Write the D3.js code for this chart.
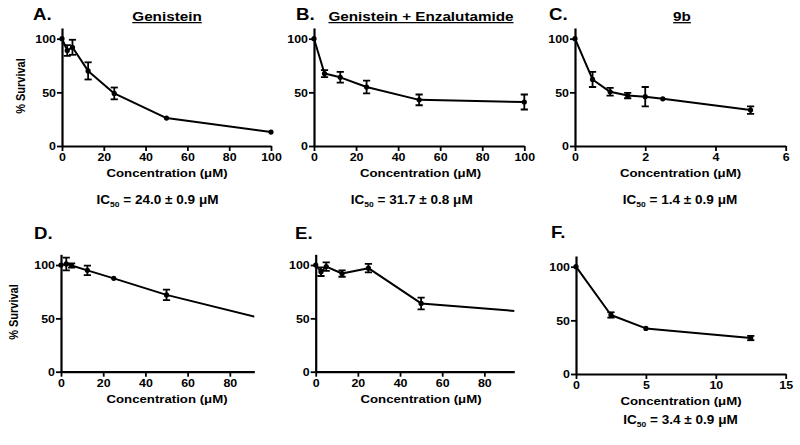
<!DOCTYPE html>
<html><head><meta charset="utf-8">
<script src="https://cdn.jsdelivr.net/npm/d3@7"></script>
<style>
html,body{margin:0;padding:0;background:#fff;}
svg text{font-family:"Liberation Sans",Arial,sans-serif;font-weight:bold;fill:#000;}
</style></head>
<body>
<svg id="chart" width="800" height="445"></svg>
<script>
// ---- data ----
const concA = [0, 2.5, 5, 12.5, 25, 50, 100];
const survA = [100, 89, 92, 70, 49, 26, 13];
const errA  = [0, 5, 7, 8, 5.5, 0, 0];

const concB = [0, 5, 12.5, 25, 50, 100];
const survB = [100, 67.5, 64, 55, 43, 41];
const errB  = [0, 3.3, 5, 6, 5, 7];

const concC = [0, 0.5, 1, 1.5, 2, 2.5, 5];
const survC = [100, 62, 50.5, 47, 46, 44, 33.5];
const errC  = [0, 7, 3.6, 2.5, 9, 0, 3.5];

const concD = [0, 2.5, 5, 12.5, 25, 50, 100];
const survD = [100, 101, 99.5, 95, 87.5, 72, 47.5];
const errD  = [0, 6, 2, 4.5, 0, 5, 0];

const concE = [0, 2.5, 5, 12.5, 25, 50, 100];
const survE = [100, 93.7, 98.5, 92, 97, 64, 56];
const errE  = [0, 4, 4, 3, 4, 5.5, 0];

const concF = [0, 2.5, 5, 12.5];
const survF = [100, 55, 42.5, 33.5];
const errF  = [0, 2.5, 0, 2];

const panelLetters = ["A.", "B.", "C.", "D.", "E.", "F."];
const panelTitles  = ["Genistein", "Genistein + Enzalutamide", "9b", "", "", ""];
const icValues     = ["24.0 ± 0.9 μM", "31.7 ± 0.8 μM", "1.4 ± 0.9 μM", "", "", "3.4 ± 0.9 μM"];
const xMaxes       = [100, 100, 6, 91.6, 94.2, 15];
const xTicksList   = [[0,20,40,60,80,100],[0,20,40,60,80,100],[0,2,4,6],[0,20,40,60,80],[0,20,40,60,80],[0,5,10,15]];
const yTicks       = [0, 50, 100];
const yMax         = 110;
const xTitle       = "Concentration (μM)";
const yTitle       = "% Survival";

// ---- layout (pixel geometry) ----
const layout = [
  {x0:62,  x1:271,   y0:146,   y100:38.7, pad:8, lx:33,  ly:20,  tx:167,   ty:20.5, cx:167,   ix:157.5, iy:204, sx:20,   sy:86},
  {x0:314, x1:524.3, y0:146,   y100:38.7, pad:8, lx:296, ly:20,  tx:421,   ty:20.5, cx:420.5, ix:411.7, iy:204, sx:null},
  {x0:575, x1:785.7, y0:146,   y100:38.7, pad:8, lx:549, ly:20,  tx:682,   ty:20.5, cx:680.5, ix:680,   iy:204, sx:null},
  {x0:61,  x1:254.3, y0:371.7, y100:265,  pad:0, lx:34,  ly:239, tx:0,     ty:0,    cx:167,   ix:0,     iy:0,   sx:13.5, sy:312},
  {x0:315.7,x1:514.3,y0:371.7, y100:265,  pad:0, lx:295, ly:239, tx:0,     ty:0,    cx:421,   ix:0,     iy:0,   sx:null},
  {x0:576, x1:785.7, y0:374,   y100:266.7,pad:8, lx:551, ly:238, tx:0,     ty:0,    cx:681,   ix:680.5, iy:424, sx:null}
];
const STRETCH = 1.13;

const concs = [concA, concB, concC, concD, concE, concF];
const survs = [survA, survB, survC, survD, survE, survF];
const errs  = [errA, errB, errC, errD, errE, errF];

const svg = d3.select("#chart");
const defs = svg.append("defs");

function stretchText(sel, x, y, rot) {
  sel.attr("transform", `translate(${x},${y}) scale(${STRETCH},1)` + (rot ? ` rotate(${rot})` : ""));
}

layout.forEach((L, i) => {
  const g = svg.append("g");
  const x = d3.scaleLinear().domain([0, xMaxes[i]]).range([L.x0, L.x1]);
  const yTopPx = L.y0 - (L.y0 - L.y100) * yMax / 100;
  const y = d3.scaleLinear().domain([0, yMax]).range([L.y0, yTopPx]);

  // clip
  const cid = "clip" + i;
  defs.append("clipPath").attr("id", cid).append("rect")
    .attr("x", L.x0 - 6).attr("y", yTopPx - 4).attr("width", L.x1 - L.x0 + 6 + L.pad).attr("height", L.y0 - yTopPx + 8);

  // axes
  const ya = g.append("g").attr("transform", `translate(${L.x0},0)`)
    .call(d3.axisLeft(y).tickValues(yTicks).tickSize(5).tickSizeOuter(0).tickFormat(d3.format("d")));
  const xa = g.append("g").attr("transform", `translate(0,${L.y0})`)
    .call(d3.axisBottom(x).tickValues(xTicksList[i]).tickSize(5).tickSizeOuter(0).tickFormat(d3.format("d")));
  [ya, xa].forEach(a => {
    a.select(".domain").attr("stroke", "#000").attr("stroke-width", 2.2);
    a.selectAll(".tick line").attr("stroke", "#000").attr("stroke-width", 1.8);
    a.selectAll(".tick text").attr("font-size", 11).attr("font-family", null);
  });
  ya.selectAll(".tick text").each(function() {
    d3.select(this).attr("x", null).attr("dy", "0.35em").attr("text-anchor", "end");
    stretchText(d3.select(this), -6, 0);
  });
  xa.selectAll(".tick text").each(function() {
    d3.select(this).attr("y", null).attr("dy", null);
    stretchText(d3.select(this), 0, 14.8);
  });

  // data line
  const pts = concs[i].map((c, k) => ({c, s: survs[i][k], e: errs[i][k]}));
  const pg = g.append("g").attr("clip-path", `url(#${cid})`);
  pg.append("path").datum(pts)
    .attr("fill", "none").attr("stroke", "#000").attr("stroke-width", 2)
    .attr("stroke-linejoin", "round")
    .attr("d", d3.line().x(d => x(d.c)).y(d => y(d.s)));

  const eb = pg.selectAll("g.eb").data(pts.filter(d => d.e > 0)).join("g");
  eb.append("line").attr("x1", d => x(d.c)).attr("x2", d => x(d.c))
    .attr("y1", d => y(d.s - d.e)).attr("y2", d => y(d.s + d.e))
    .attr("stroke", "#000").attr("stroke-width", 1.8);
  [1, -1].forEach(sgn => {
    eb.append("line").attr("x1", d => x(d.c) - 3.6).attr("x2", d => x(d.c) + 3.6)
      .attr("y1", d => y(d.s + sgn * d.e)).attr("y2", d => y(d.s + sgn * d.e))
      .attr("stroke", "#000").attr("stroke-width", 1.8);
  });
  pg.selectAll("circle").data(pts).join("circle")
    .attr("cx", d => x(d.c)).attr("cy", d => y(d.s)).attr("r", 2.6).attr("fill", "#000");

  // panel letter
  const lt = g.append("text").attr("font-size", 16.5).text(panelLetters[i]);
  stretchText(lt, L.lx, L.ly);

  // subtitle
  if (panelTitles[i]) {
    const t = g.append("text").attr("font-size", 13.5).attr("text-anchor", "middle").text(panelTitles[i]);
    stretchText(t, L.tx, L.ty);
    const w = t.node().getComputedTextLength() * STRETCH;
    g.append("line").attr("x1", L.tx - w / 2).attr("x2", L.tx + w / 2)
      .attr("y1", L.ty + 2.2).attr("y2", L.ty + 2.2).attr("stroke", "#000").attr("stroke-width", 1.3);
  }

  // x title
  const xt = g.append("text").attr("font-size", 11.7).attr("text-anchor", "middle").text(xTitle);
  stretchText(xt, L.cx, L.y0 + 31.2);

  // y title
  if (L.sx !== null) {
    const yt = g.append("text").attr("font-size", 11).attr("text-anchor", "middle")
      .attr("dominant-baseline", "central").text(yTitle);
    stretchText(yt, L.sx, L.sy, -90);
  }

  // IC50
  if (icValues[i]) {
    const it = g.append("text").attr("font-size", 12).attr("text-anchor", "middle");
    it.append("tspan").text("IC");
    it.append("tspan").attr("font-size", 7.5).attr("dy", 3).text("50");
    it.append("tspan").attr("dy", -3).text(" = " + icValues[i]);
    stretchText(it, L.ix, L.iy);
  }
});
</script>
</body></html>
